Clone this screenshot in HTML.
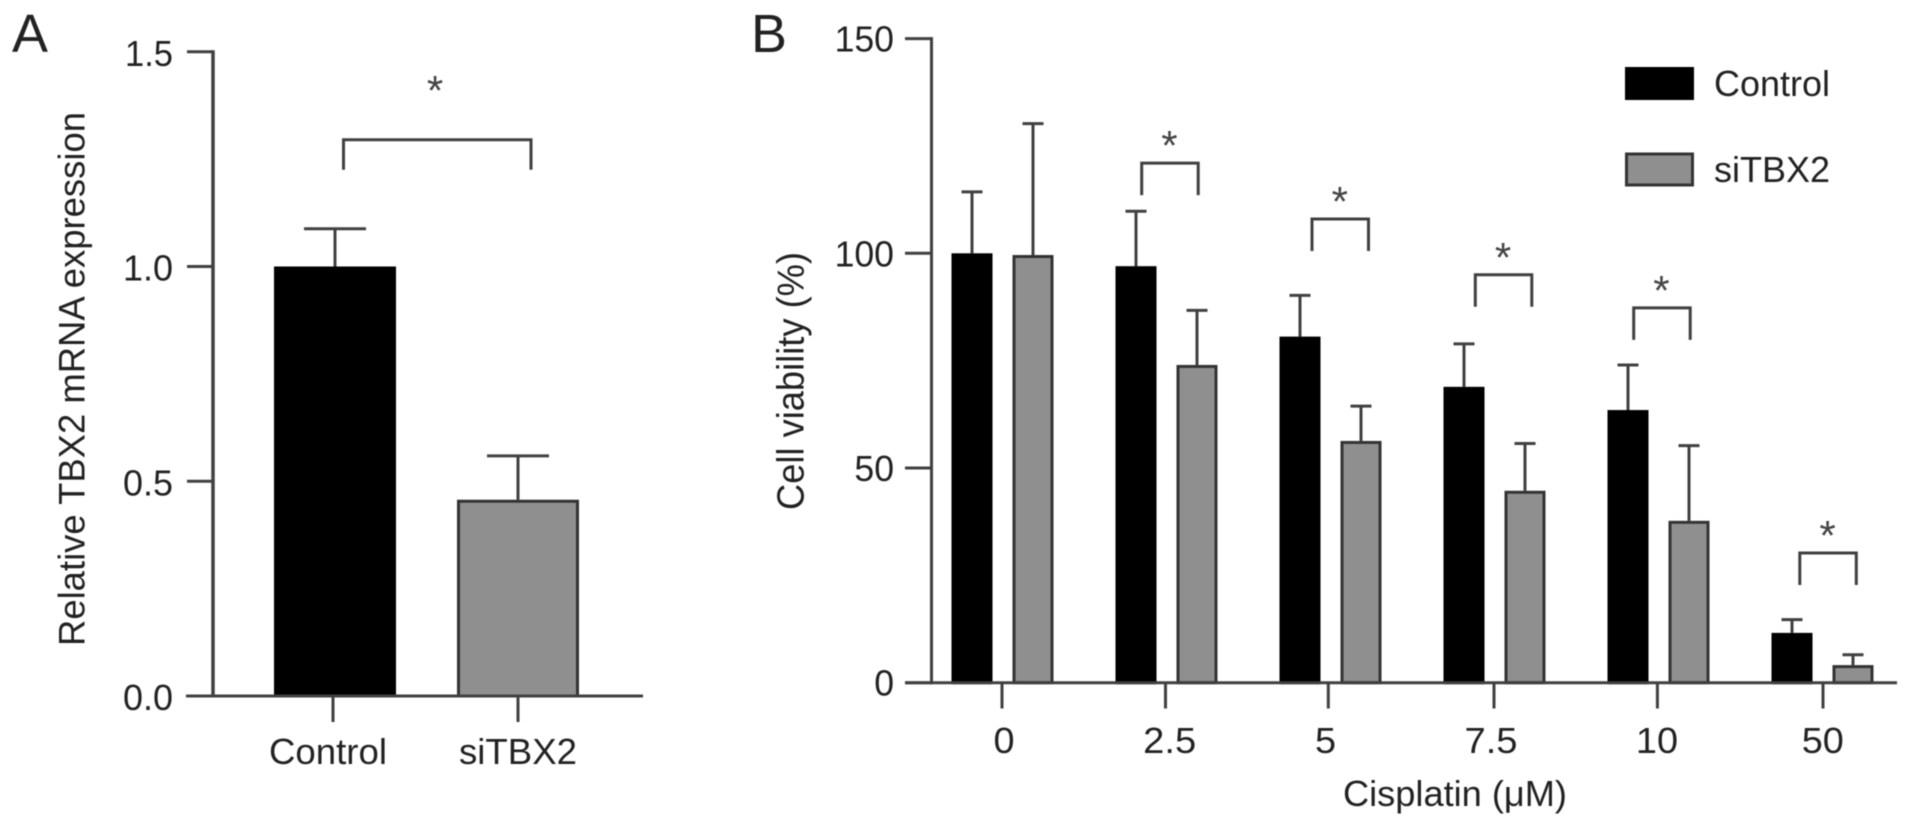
<!DOCTYPE html>
<html lang="en">
<head>
<meta charset="utf-8">
<title>TBX2 expression and cell viability</title>
<style>
html,body{margin:0;padding:0;background:#fff;}
svg{display:block;filter:blur(0.6px);}
text{font-family:"Liberation Sans",sans-serif;fill:#222;}
</style>
</head>
<body>
<svg id="fig" xmlns="http://www.w3.org/2000/svg" width="1913" height="829" viewBox="0 0 1913 829">
  <rect x="0" y="0" width="1913" height="829" fill="#fff"/>
  <text x="12" y="52" font-size="54" textLength="36" lengthAdjust="spacingAndGlyphs">A</text>
  <text x="751" y="52" font-size="54" textLength="36" lengthAdjust="spacingAndGlyphs">B</text>
  <g id="chartA"></g>
  <g id="chartB"></g>
  <text transform="translate(84.5,646) rotate(-90)" font-size="37" textLength="534" lengthAdjust="spacingAndGlyphs">Relative TBX2 mRNA expression</text>
  <text transform="translate(803.5,510) rotate(-90)" font-size="38" textLength="258" lengthAdjust="spacingAndGlyphs">Cell viability (%)</text>
  <text x="1343" y="806" font-size="36" textLength="224" lengthAdjust="spacingAndGlyphs">Cisplatin (μM)</text>
  <rect x="1625" y="67" width="69" height="33" fill="#000"/>
  <text x="1714" y="96" font-size="36" textLength="116" lengthAdjust="spacingAndGlyphs">Control</text>
  <rect x="1626.5" y="154" width="66" height="31" fill="#8f8f8f" stroke="#333" stroke-width="3"/>
  <text x="1714" y="182" font-size="36" textLength="116" lengthAdjust="spacingAndGlyphs">siTBX2</text>
</svg>
<script>
// Panel A data
const aCategories = ["Control", "siTBX2"];
const aMeans = [1.0, 0.457];
const aErrors = [0.088, 0.102];
const aTicks = ["0.0", "0.5", "1.0", "1.5"];
const aBracketLevel = [1.295];

// Panel B data
const bDoses = ["0", "2.5", "5", "7.5", "10", "50"];
const bControl = [100, 97, 80.6, 68.9, 63.5, 11.6];
const bControlErr = [14.3, 12.8, 9.6, 10, 10.5, 3.1];
const bSiTBX2 = [99.6, 74, 56.3, 44.7, 37.7, 4.1];
const bSiTBX2Err = [30.6, 12.7, 8.1, 11, 17.5, 2.4];
const bTicks = ["0", "50", "100", "150"];
const bBracketLevel = [null, 121, 108, 95, 87.3, 30.2];

const NS = "http://www.w3.org/2000/svg";
const AXIS = "#404040";

function make(parent, tag, attrs, text) {
  const el = document.createElementNS(NS, tag);
  for (const k in attrs) el.setAttribute(k, attrs[k]);
  if (text !== undefined) el.textContent = text;
  parent.appendChild(el);
  return el;
}

function lineEl(parent, x1, y1, x2, y2, w) {
  return make(parent, "line", {x1, y1, x2, y2, stroke: AXIS, "stroke-width": w});
}

function approxWidth(label) {
  let w = 0;
  for (const c of label) w += c === "." ? 0.3 : 0.58;
  return w;
}

/* ---------- Panel A ---------- */
(function () {
  const g = document.getElementById("chartA");
  const y = v => 696 - v * 429.5;
  const x = i => 335 + 183 * i;
  const barW = 122;

  aMeans.forEach((v, i) => {
    const cx = x(i);
    const grp = make(g, "g", {});
    
    

    const top = y(v + aErrors[i]);
    const stem = lineEl(grp, cx, top, cx, y(v), 3);
    
    
    const cap = lineEl(grp, cx - 31, top, cx + 31, top, 3);
    
    

    const dark = i === 0;
    const bar = make(grp, "rect", {
      x: cx - barW / 2 + 1.5, y: y(v) + 1.5, width: barW - 3, height: y(0) - y(v) - 1.5,
      fill: dark ? "#000" : "#8f8f8f", stroke: dark ? "#000" : "#333", "stroke-width": 3
    });
    
    

    const tick = lineEl(grp, cx - 2 + i * 2, y(0), cx - 2 + i * 2, 722, 3);
    
    

    const label = make(grp, "text", {
      x: cx - (i === 0 ? 7 : 0), y: 764, "font-size": 36, "text-anchor": "middle",
      textLength: 118, lengthAdjust: "spacingAndGlyphs"
    }, aCategories[i]);
    
    
  });

  const yAxis = lineEl(g, 213, y(1.5) - 1.5, 213, y(0) + 1.5, 3.5);
  
  
  const xAxis = lineEl(g, 186, y(0), 643, y(0), 3);
  
  

  aTicks.forEach(t => {
    const v = parseFloat(t);
    const tick = lineEl(g, 187, y(v), 213, y(v), 3);
    
    
    const label = make(g, "text", {
      x: 173, y: y(v) + 14, "font-size": 36, "text-anchor": "end",
      textLength: 48 + (v === 1.5 ? 0 : 2), lengthAdjust: "spacingAndGlyphs"
    }, t);
    
    
  });

  const by = y(aBracketLevel[0]) ;
  const bracket = make(g, "path", {
    d: "M343.5 " + (by + 30) + " V" + by + " H531 V" + (by + 30),
    fill: "none", stroke: AXIS, "stroke-width": 3
  });
  
  
  const star = make(g, "text", {
    x: 435, y: by - 35, "font-size": 42, "text-anchor": "middle", style: "fill:#444"
  }, "*");
  
  
})();

/* ---------- Panel B ---------- */
(function () {
  const g = document.getElementById("chartB");
  const y = v => 682.7 - v * 4.294;
  const x = i => 1002.5 + 164 * i;
  const barW = 41;
  const off = 30.5;

  bDoses.forEach((d, i) => {
    const cx = x(i);
    const tickNudge = [-0.5, -1, -2.2, -0.5, -1.1, 0.5][i];
    const labelNudge = [1.5, 3.2, -4.9, -3.5, -1.5, 0.3][i];
    const bracketNudge = [0, -1.3, 5, 4.3, -1.3, 0.8][i];
    const grp = make(g, "g", {});
    
    

    [[bControl, bControlErr, -off, true], [bSiTBX2, bSiTBX2Err, off, false]].forEach(s => {
      const v = s[0][i];
      const c = cx + s[2];
      const top = y(v + s[1][i]);
      const stem = lineEl(grp, c, top, c, y(v), 3);
      
      
      const cap = lineEl(grp, c - 10.5, top, c + 10.5, top, 3);
      
      

      const bar = make(grp, "rect", {
        x: c - barW / 2 + 1.5, y: y(v) + 1.5, width: barW - 3, height: y(0) - y(v) - 1.5,
        fill: s[3] ? "#000" : "#8f8f8f", stroke: s[3] ? "#000" : "#333", "stroke-width": 3
      });
      
      
    });

    const tick = lineEl(grp, cx + tickNudge, y(0), cx + tickNudge, 708.5, 3);
    
    

    const label = make(grp, "text", {
      x: cx + labelNudge, y: 753, "font-size": 36, "text-anchor": "middle",
      textLength: approxWidth(d) * 36.3, lengthAdjust: "spacingAndGlyphs"
    }, d);
    
    

    const level = bBracketLevel[i];
    if (level !== null) {
      const by = y(level);
      const bl = cx - 23.5 + bracketNudge;
      const br = bl + 56.5;
      const bracket = make(grp, "path", {
        d: "M" + bl + " " + (by + 32) + " V" + by + " H" + br + " V" + (by + 32),
        fill: "none", stroke: AXIS, "stroke-width": 3
      });
      
      
      const star = make(grp, "text", {
        x: (bl + br) / 2 - 0.5, y: by - 3, "font-size": 42, "text-anchor": "middle", style: "fill:#444"
      }, "*");
      
      
    }
  });

  const yAxis = lineEl(g, 931.5, y(150) - 1.5, 931.5, y(0) + 1.5, 3);
  
  
  const xAxis = lineEl(g, 905, y(0), 1897, y(0), 3);
  
  

  bTicks.forEach(t => {
    const v = parseFloat(t);
    const tick = lineEl(g, 905, y(v), 931.5, y(v), 3);
    
    
    const label = make(g, "text", {
      x: 894, y: y(v) + 13, "font-size": 36, "text-anchor": "end",
      textLength: t.length * 19.8, lengthAdjust: "spacingAndGlyphs"
    }, t);
    
    
  });
})();
</script>
</body>
</html>
